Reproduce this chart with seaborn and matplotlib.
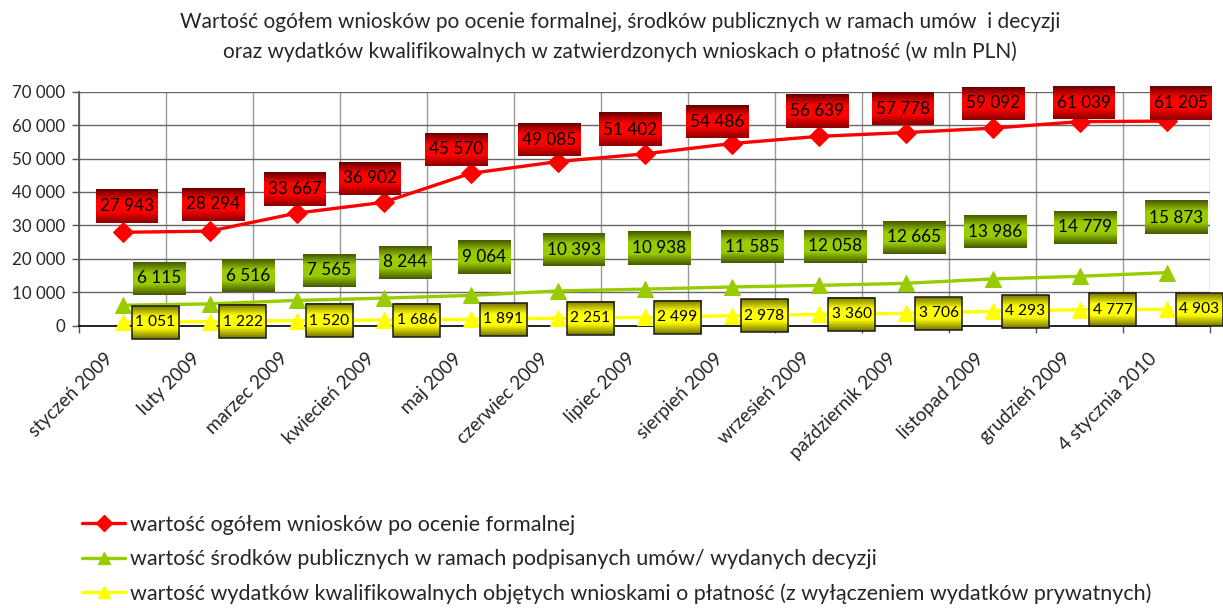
import numpy as np
import pandas as pd
import matplotlib
matplotlib.use("Agg")
import matplotlib.pyplot as plt
from matplotlib.lines import Line2D
from matplotlib.patches import Rectangle
from matplotlib.colors import LinearSegmentedColormap
from matplotlib.ticker import FuncFormatter, MultipleLocator
import seaborn as sns

# --- dane -----------------------------------------------------------------
miesiace = ["styczeń 2009", "luty 2009", "marzec 2009", "kwiecień 2009", "maj 2009",
            "czerwiec 2009", "lipiec 2009", "sierpień 2009", "wrzesień 2009",
            "październik 2009", "listopad 2009", "grudzień 2009", "4 stycznia 2010"]
ogolem    = [27943, 28294, 33667, 36902, 45570, 49085, 51402, 54486, 56639, 57778, 59092, 61039, 61205]
publiczne = [6115, 6516, 7565, 8244, 9064, 10393, 10938, 11585, 12058, 12665, 13986, 14779, 15873]
wydatki   = [1051, 1222, 1520, 1686, 1891, 2251, 2499, 2978, 3360, 3706, 4293, 4777, 4903]

nazwy = ["wartość ogółem wniosków po ocenie formalnej",
         "wartość środków publicznych w ramach podpisanych umów/ wydanych decyzji",
         "wartość wydatków kwalifikowalnych objętych wnioskami o płatność (z wyłączeniem wydatków prywatnych)"]
tytul = ("Wartość ogółem wniosków po ocenie formalnej, środków publicznych w ramach umów  i decyzji\n"
         "oraz wydatków kwalifikowalnych w zatwierdzonych wnioskach o płatność (w mln PLN)")

# przesunięcia etykiet (piksele)
off_red = [(4, 26), (4, 27), (-2, 24), (-14, 24), (-14, 24), (-8, 22), (-14, 24),
           (-14, 22), (-2, 25), (-3, 24), (1, 25), (4, 19), (14, 18)]
off_grn = [(37, 27), (39, 28), (33, 30), (22, 36), (14, 38), (16, 41), (15, 41),
           (21, 40), (17, 39), (8, 46), (3, 47), (6, 49), (10, 55)]
off_yel = [(33, 0)] * 13

# --- styl -----------------------------------------------------------------
sns.set_theme(style="white")
plt.rcParams["font.family"] = ["Lato", "DejaVu Sans"]

W, H = 1223, 608
fig = plt.figure(figsize=(W / 100, H / 100), dpi=100)
ax = fig.add_axes([79 / W, 1 - 325.7 / H, 1131 / W, 234 / H])

x = np.arange(len(miesiace))
df = pd.DataFrame({"x": x, "ogolem": ogolem, "publiczne": publiczne, "wydatki": wydatki})

# kolumna, kolor, marker, rozmiar, przesunięcia, gradient, obramowanie, czcionka, margines
series = [
    ("ogolem", "#FF0000", "D", 10, off_red, ("#650000", "#ff0000", "#8a0000"), None, 12.3, 8),
    ("publiczne", "#99CC00", "^", 11, off_grn, ("#465a00", "#99cc00", "#465a00"), None, 12.3, 8),
    ("wydatki", "#FFFF00", "^", 11, off_yel, ("#777700", "#ffff00", "#777700"), "#1a1a1a", 11.2, 7),
]

labels = []
for col, c, m, ms, offs, grad, edge, fs, padx in series:
    sns.lineplot(data=df, x="x", y=col, color=c, marker=m, markersize=ms,
                 markeredgecolor=c, linewidth=2.4, ax=ax, zorder=3, clip_on=False)
    for xi, v, (dx, dy) in zip(x, df[col], offs):
        lab = f"{v:,}".replace(",", " ")
        t = ax.annotate(lab, (xi, v), xytext=(dx, dy), textcoords="offset pixels",
                        ha="center", va="center", fontsize=fs, color="black", zorder=7,
                        annotation_clip=False)
        labels.append((t, grad, edge, padx))

# --- osie -----------------------------------------------------------------
ax.set_xlim(-0.5, len(miesiace) - 0.5)
ax.set_ylim(0, 70000)
ax.yaxis.set_major_locator(MultipleLocator(10000))
ax.yaxis.set_major_formatter(FuncFormatter(lambda v, p: f"{int(v):,}".replace(",", " ")))
ax.set_xticks(x)
ax.set_xticklabels([""] * len(x))
ax.set_xticks(np.arange(-0.5, len(miesiace)), minor=True)
for xi, name in zip(x, miesiace):
    ax.annotate(name, (xi, 0), xycoords=("data", "axes fraction"), xytext=(-18, -24),
                textcoords="offset pixels", rotation=45, ha="right", va="top",
                rotation_mode="anchor", fontsize=13.5, annotation_clip=False)
ax.tick_params(axis="x", which="major", length=0)
ax.tick_params(axis="x", which="minor", length=5, color="#555555", width=1, bottom=True)
ax.tick_params(axis="y", length=5, color="#555555", width=1, left=True, labelsize=12.2, pad=5)
ax.grid(axis="y", which="major", color="#666666", lw=1)
ax.grid(axis="x", which="minor", color="#999999", lw=1)
ax.set_axisbelow(True)
ax.set_xlabel("")
ax.set_ylabel("")
for s in ["top", "right"]:
    ax.spines[s].set_visible(False)
ax.spines["left"].set_color("#555555")
ax.spines["bottom"].set_color("black")
ax.spines["bottom"].set_linewidth(1.2)

fig.text(0.507, 1 - 37 / H, tytul, ha="center", va="center", fontsize=15, linespacing=1.55)

handles = [Line2D([], [], color=s[1], marker=s[2], markersize=s[3] - 2, lw=2.4) for s in series]
fig.legend(handles, nazwy, loc="upper left", bbox_to_anchor=(82 / W, 1 - 515 / H),
           frameon=False, fontsize=15.5, handlelength=2.0, handletextpad=0.25,
           labelspacing=0.66, borderaxespad=0, borderpad=0)

# --- gradientowe tła etykiet (stała wysokość ramki) ------------------------
fig.canvas.draw()
inv = ax.transData.inverted()
box_h = 33
for t, (top, mid, bot), edge, padx in labels:
    bb = t.get_window_extent()
    cx, cy = (bb.x0 + bb.x1) / 2, (bb.y0 + bb.y1) / 2
    w = bb.width + padx
    (x0, y0), (x1, y1) = inv.transform([[cx - w / 2, cy - box_h / 2], [cx + w / 2, cy + box_h / 2]])
    cmap = LinearSegmentedColormap.from_list("g", [top, mid, mid, bot])
    grad = np.linspace(0, 1, 64).reshape(-1, 1)
    ax.imshow(grad, cmap=cmap, extent=(x0, x1, y0, y1), aspect="auto",
              zorder=5, clip_on=False, interpolation="bilinear", origin="upper")
    if edge:
        ax.add_patch(Rectangle((x0, y0), x1 - x0, y1 - y0, fc="none", ec=edge,
                               lw=1.1, zorder=6, clip_on=False))
ax.set_xlim(-0.5, len(miesiace) - 0.5)
ax.set_ylim(0, 70000)

fig.savefig("out.png", dpi=100)
